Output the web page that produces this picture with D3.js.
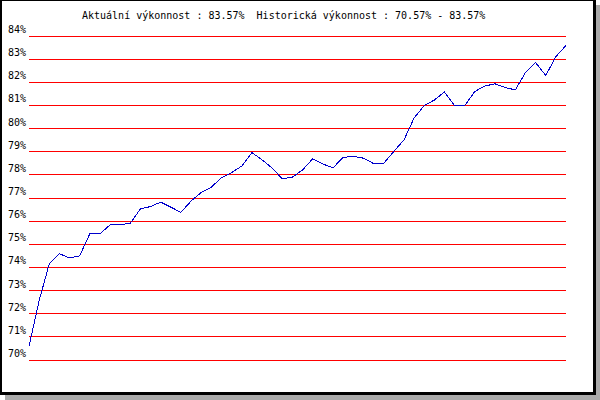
<!DOCTYPE html>
<html>
<head>
<meta charset="utf-8">
<script src="https://cdn.jsdelivr.net/npm/d3@7"></script>
<style>
html,body{margin:0;padding:0;background:#fff;}
svg{display:block;}
</style>
</head>
<body>
<svg id="chart" width="600" height="400"></svg>
<script>
const titleText = "Aktuální výkonnost : 83.57%  Historická výkonnost : 70.57% - 83.57%";
const tickValues = [70,71,72,73,74,75,76,77,78,79,80,81,82,83,84];
const tickLabels = ["70%","71%","72%","73%","74%","75%","76%","77%","78%","79%","80%","81%","82%","83%","84%"];
const performance = [
  70.57, 72.55, 74.13, 74.57, 74.39, 74.48, 75.43, 75.43, 75.82, 75.82,
  75.89, 76.51, 76.61, 76.80, 76.58, 76.36, 76.85, 77.22, 77.45, 77.86,
  78.08, 78.36, 78.94, 78.63, 78.27, 77.81, 77.88, 78.19, 78.67, 78.45,
  78.28, 78.73, 78.78, 78.70, 78.47, 78.47, 78.99, 79.48, 80.43, 80.97,
  81.21, 81.56, 80.97, 80.97, 81.58, 81.82, 81.91, 81.75, 81.65, 82.40,
  82.83, 82.27, 83.09, 83.57
];

const svg = d3.select("#chart");
const font = "'DejaVu Sans Mono', monospace";

// frame with shadow
svg.append("rect").attr("x",5).attr("y",5).attr("width",595).attr("height",395).attr("fill","#aaaaaa");
svg.append("rect").attr("x",0).attr("y",0).attr("width",596).attr("height",395).attr("fill","#000");
svg.append("rect").attr("x",2).attr("y",1).attr("width",591).attr("height",391).attr("fill","#fff");

const left = 29, right = 566;
const x = d3.scaleLinear().domain([0, performance.length - 1]).range([left, right]);
const y = d3.scaleLinear().domain([70, 84]).range([359.5, 35.5]);

// title
svg.append("text")
  .attr("x", 82).attr("y", 19)
  .attr("font-family", font).attr("font-size", 10).attr("fill", "#000")
  .style("white-space","pre").attr("xml:space","preserve")
  .text(titleText);

// y axis with gridlines
const axis = d3.axisLeft(y)
  .tickValues(tickValues)
  .tickSize(-(right - left))
  .tickPadding(3)
  .tickFormat((d, i) => tickLabels[i]);

const g = svg.append("g").attr("transform", `translate(${left},0)`).call(axis);
g.select(".domain").remove();
g.selectAll(".tick line").attr("stroke", "#ff0000").attr("stroke-width", 1).attr("shape-rendering", "crispEdges");
g.selectAll(".tick text")
  .attr("dy", "-3")
  .attr("font-family", font).attr("font-size", 10).attr("fill", "#000");

// line
const line = d3.line().x((d, i) => x(i)).y(d => y(d));
svg.append("path")
  .datum(performance)
  .attr("d", line)
  .attr("fill", "none")
  .attr("stroke", "#0000cc")
  .attr("stroke-width", 1)
  .attr("shape-rendering", "crispEdges");
</script>
</body>
</html>
